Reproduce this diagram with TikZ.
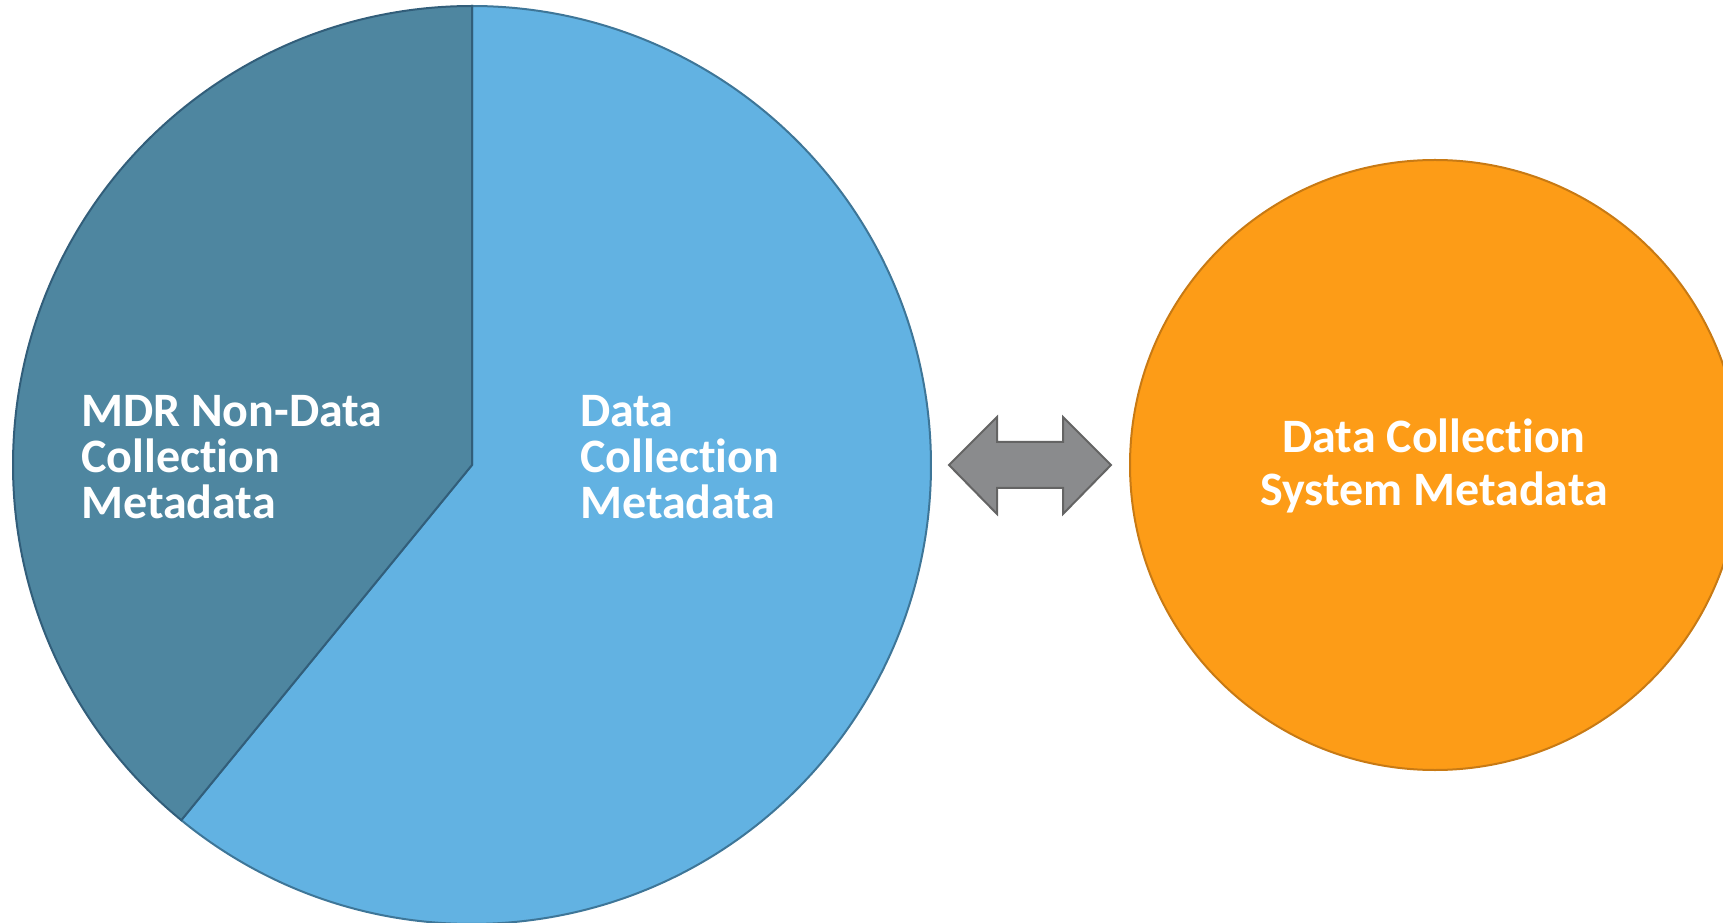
\documentclass[tikz,border=0pt]{standalone}
\usepackage{fontspec}
\setmainfont{Carlito}[RawFeature=-liga]
\usepackage{tikz}

\definecolor{piedark}{RGB}{78,134,160}
\definecolor{pielight}{RGB}{98,178,226}
\definecolor{pieedge}{RGB}{62,118,152}
\definecolor{sysorange}{RGB}{253,156,23}
\definecolor{sysedge}{RGB}{200,122,20}
\definecolor{arrowgray}{RGB}{138,139,141}
\definecolor{arrowedge}{RGB}{100,100,100}

\tikzset{
  pietext/.style={text=white, inner sep=0pt, font=\bfseries\fontsize{48}{45.5}\selectfont},
}

\begin{document}
\begin{tikzpicture}[x=1pt,y=1pt]
        \useasboundingbox (0,0) rectangle (1723,922);
        % pie: data collection split
        \coordinate (pc) at (472,457);
        \fill[pielight,draw=pieedge,line width=2pt] (pc) ++(230.7:459) arc[start angle=230.7,end angle=450,radius=459] -- (pc) -- cycle;
        \fill[piedark,draw=pieedge!80!black,line width=2pt] (pc) -- ++(90:459) arc[start angle=90,end angle=230.7,radius=459] -- cycle;
        % system circle
        \fill[sysorange,draw=sysedge,line width=2pt] (1435,457) circle (305);
        % double arrow
        \coordinate (al) at (949,457);
        \coordinate (ar) at (1111,457);
        \fill[arrowgray,draw=arrowedge,line width=2pt,line join=miter]
            (al) -- (997,505) -- (997,480) -- (1063,480) -- (1063,505) -- (ar)
            -- (1063,408) -- (1063,434) -- (997,434) -- (997,408) -- cycle;
        % labels (base = last line)
        \node[pietext,anchor=base west,align=left] (nondc) at (81,404) {MDR Non-Data\\Collection\\Metadata};
        \node[pietext,anchor=base west,align=left] (dc) at (580,404) {Data\\Collection\\Metadata};
        \node[pietext,anchor=base,align=center,font=\bfseries\fontsize{48}{53}\selectfont] (dcs) at (1434,417) {Data Collection\\System Metadata};
    \end{tikzpicture}
\end{document}
